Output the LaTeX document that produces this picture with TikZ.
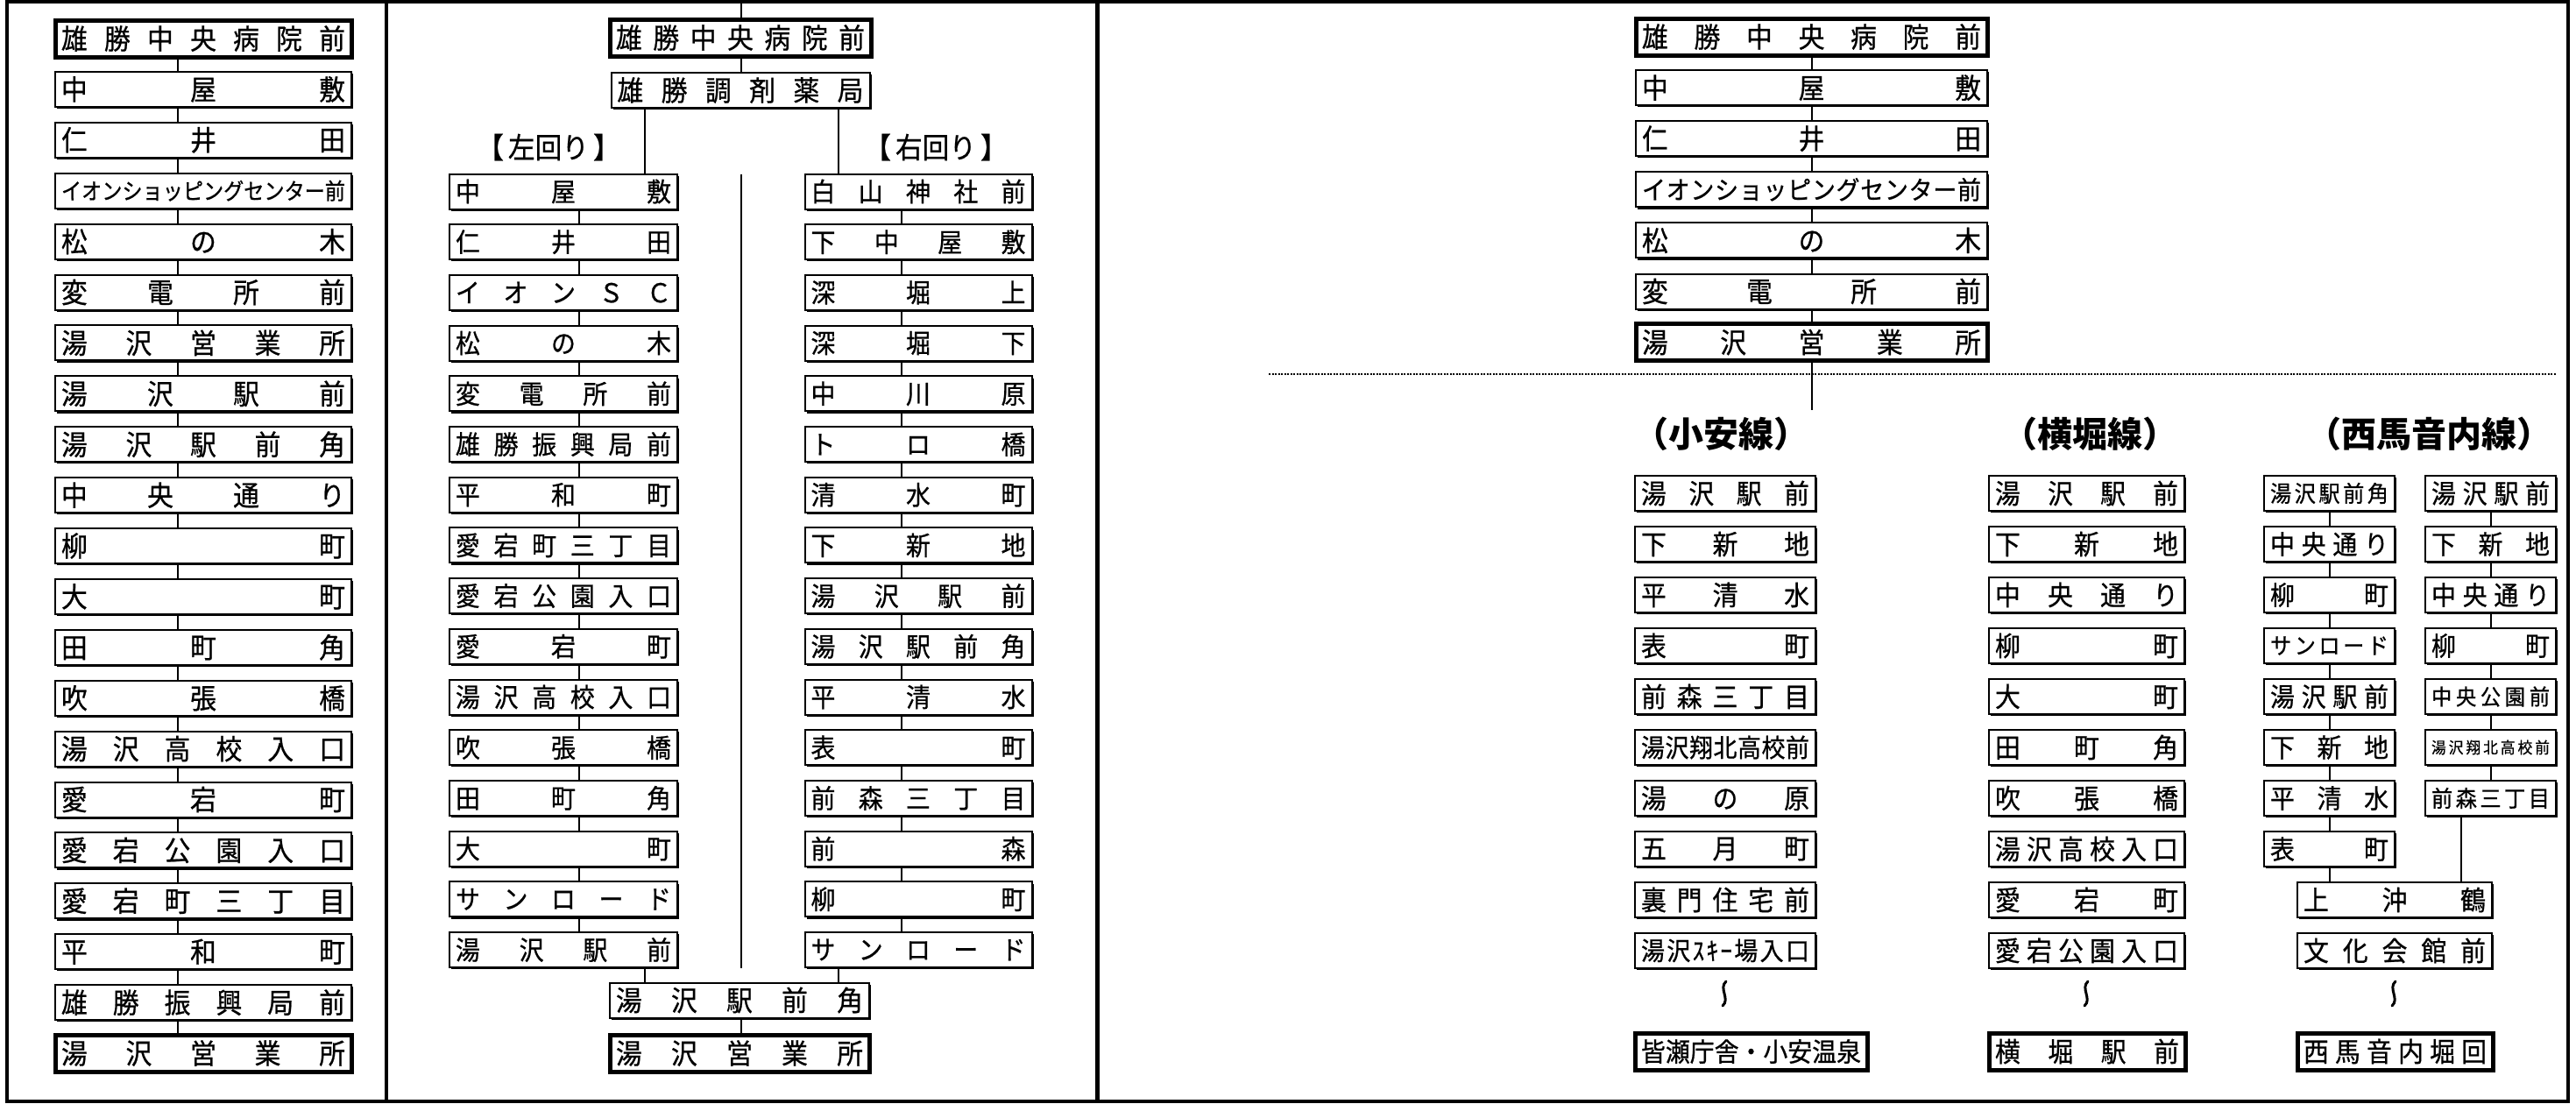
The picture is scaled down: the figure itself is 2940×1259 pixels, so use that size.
\documentclass[tikz,border=0pt]{standalone}
\usepackage{fontspec}
\setmainfont{Noto Sans CJK JP}
\newfontfamily\stnfont{Noto Sans CJK JP}[FakeBold=0.7,FakeStretch=0.93]
\usetikzlibrary{shadows}

\newsavebox\stnbox
\newlength\stnw
\def\spreadaux#1{\ifx#1\relax\else\hfill#1\expandafter\spreadaux\fi}
\def\spreadfirst#1{#1\spreadaux}
\newcommand\spreadtxt[1]{\spreadfirst#1\relax}
\newcommand\fitspread[2]{%
  \edef\stntmp{#2}%
  \sbox\stnbox{\stntmp}%
  \ifdim\wd\stnbox>#1\relax
    \resizebox{#1}{\height}{\usebox\stnbox}%
  \else
    \makebox[#1][s]{\expandafter\spreadtxt\expandafter{\stntmp}}%
  \fi}
% \St[options]{name}{x,y}{width}{font size}{text}
\newcommand\St[6][]{%
  \node[stn,minimum width=#4pt,#1] (#2) at (#3)
    {\setlength\stnw{#4pt}\addtolength\stnw{-14pt}\stnfont\fontsize{#5}{#5}\selectfont\fitspread{\stnw}{#6}};}

\tikzset{
  stn/.style={draw, line width=2pt, fill=white, inner sep=0pt, minimum height=40pt,
    drop shadow={shadow xshift=2.2pt, shadow yshift=-2.2pt, fill=black, opacity=1}},
  heavy/.style={line width=5pt, minimum height=42pt},
  conn/.style={line width=2pt},
  frame/.style={line width=4pt},
  lbl/.style={inner sep=0pt, font=\stnfont\fontsize{33}{33}\selectfont},
  hd/.style={inner sep=0pt, font=\fontsize{40}{40}\selectfont\bfseries},
  wave/.style={line width=3pt, line cap=round}
}

\begin{document}
\begin{tikzpicture}[x=1pt,y=-1pt]
\useasboundingbox (0,0) rectangle (2940,1259);
\fill[white] (0,0) rectangle (2940,1259);

% frame
\draw[frame] (8,2) rectangle (2931,1257);
\draw[frame] (441,2) -- (441,1257);
\draw[line width=5pt] (1252,2) -- (1252,1257);

% ---------------- left panel ----------------
\coordinate (cA) at (203,0);
\St[heavy]{A1}{232,44}{338}{32}{雄勝中央病院前}
\St{A2}{232,101.9}{338}{32}{中屋敷}
\St{A3}{232,159.8}{338}{32}{仁井田}
\St{A4}{232,217.7}{338}{26}{イオンショッピングセンター前}
\St{A5}{232,275.6}{338}{32}{松の木}
\St{A6}{232,333.5}{338}{32}{変電所前}
\St{A7}{232,391.4}{338}{32}{湯沢営業所}
\St{A8}{232,449.3}{338}{32}{湯沢駅前}
\St{A9}{232,507.2}{338}{32}{湯沢駅前角}
\St{A10}{232,565.1}{338}{32}{中央通り}
\St{A11}{232,623}{338}{32}{柳町}
\St{A12}{232,680.9}{338}{32}{大町}
\St{A13}{232,738.8}{338}{32}{田町角}
\St{A14}{232,796.7}{338}{32}{吹張橋}
\St{A15}{232,854.6}{338}{32}{湯沢高校入口}
\St{A16}{232,912.5}{338}{32}{愛宕町}
\St{A17}{232,970.4}{338}{32}{愛宕公園入口}
\St{A18}{232,1028.3}{338}{32}{愛宕町三丁目}
\St{A19}{232,1086.2}{338}{32}{平和町}
\St{A20}{232,1144.1}{338}{32}{雄勝振興局前}
\St[heavy]{A21}{232,1202}{338}{32}{湯沢営業所}
\foreach \j in {2,...,21}{\pgfmathtruncatemacro\i{\j-1}
  \draw[conn] (A\i.south -| cA) -- (A\j.north -| cA);}

% ---------------- middle panel ----------------
\coordinate (cM) at (846,0);
\coordinate (mtop) at (846,2);
\coordinate (bL) at (736,0);
\coordinate (bR) at (957,0);
\coordinate (cML) at (661,0);
\coordinate (cMR) at (1029,0);
\St[heavy]{M0}{845,43}{298}{32}{雄勝中央病院前}
\St{M00}{845,103}{295}{32}{雄勝調剤薬局}
\node[lbl] (lblL) at (626,168) {【\kern5pt左回り\kern5pt】};
\node[lbl] (lblR) at (1068,168) {【\kern5pt右回り\kern5pt】};

\St{ML1}{643,218.5}{260}{30}{中屋敷}
\St{ML2}{643,276.2}{260}{30}{仁井田}
\St{ML3}{643,333.9}{260}{30}{イオンＳＣ}
\St{ML4}{643,391.6}{260}{30}{松の木}
\St{ML5}{643,449.3}{260}{30}{変電所前}
\St{ML6}{643,507}{260}{30}{雄勝振興局前}
\St{ML7}{643,564.7}{260}{30}{平和町}
\St{ML8}{643,622.4}{260}{30}{愛宕町三丁目}
\St{ML9}{643,680.1}{260}{30}{愛宕公園入口}
\St{ML10}{643,737.8}{260}{30}{愛宕町}
\St{ML11}{643,795.5}{260}{30}{湯沢高校入口}
\St{ML12}{643,853.2}{260}{30}{吹張橋}
\St{ML13}{643,910.9}{260}{30}{田町角}
\St{ML14}{643,968.6}{260}{30}{大町}
\St{ML15}{643,1026.3}{260}{30}{サンロード}
\St{ML16}{643,1084}{260}{30}{湯沢駅前}

\St{MR1}{1048,218.5}{259}{30}{白山神社前}
\St{MR2}{1048,276.2}{259}{30}{下中屋敷}
\St{MR3}{1048,333.9}{259}{30}{深堀上}
\St{MR4}{1048,391.6}{259}{30}{深堀下}
\St{MR5}{1048,449.3}{259}{30}{中川原}
\St{MR6}{1048,507}{259}{30}{トロ橋}
\St{MR7}{1048,564.7}{259}{30}{清水町}
\St{MR8}{1048,622.4}{259}{30}{下新地}
\St{MR9}{1048,680.1}{259}{30}{湯沢駅前}
\St{MR10}{1048,737.8}{259}{30}{湯沢駅前角}
\St{MR11}{1048,795.5}{259}{30}{平清水}
\St{MR12}{1048,853.2}{259}{30}{表町}
\St{MR13}{1048,910.9}{259}{30}{前森三丁目}
\St{MR14}{1048,968.6}{259}{30}{前森}
\St{MR15}{1048,1026.3}{259}{30}{柳町}
\St{MR16}{1048,1084}{259}{30}{サンロード}

\St{MB1}{844,1141.5}{296}{32}{湯沢駅前角}
\St[heavy]{MB2}{844,1202}{296}{32}{湯沢営業所}

\draw[conn] (mtop) -- (M0.north -| cM);
\draw[conn] (M0.south -| cM) -- (M00.north -| cM);
\draw[conn] (M00.south -| bL) -- (ML1.north -| bL);
\draw[conn] (M00.south -| bR) -- (MR1.north -| bR);
\foreach \j in {2,...,16}{\pgfmathtruncatemacro\i{\j-1}
  \draw[conn] (ML\i.south -| cML) -- (ML\j.north -| cML);
  \draw[conn] (MR\i.south -| cMR) -- (MR\j.north -| cMR);}
\draw[conn] (ML16.south -| bL) -- (MB1.north -| bL);
\draw[conn] (MR16.south -| bR) -- (MB1.north -| bR);
\draw[conn] (MB1.south -| cM) -- (MB2.north -| cM);
\coordinate (divT) at (846,199);
\coordinate (divB) at (846,1105);
\draw[line width=1.5pt] (divT) -- (divB);

% ---------------- right panel ----------------
\coordinate (cR) at (2068,0);
\St[heavy]{R1}{2067.5,42}{401}{32}{雄勝中央病院前}
\St{R2}{2067.5,100.1}{401}{32}{中屋敷}
\St{R3}{2067.5,158.2}{401}{32}{仁井田}
\St{R4}{2067.5,216.3}{401}{29}{イオンショッピングセンター前}
\St{R5}{2067.5,274.4}{401}{32}{松の木}
\St{R6}{2067.5,332.5}{401}{32}{変電所前}
\St[heavy]{R7}{2067.5,390.6}{401}{32}{湯沢営業所}
\foreach \j in {2,...,7}{\pgfmathtruncatemacro\i{\j-1}
  \draw[conn] (R\i.south -| cR) -- (R\j.north -| cR);}
\coordinate (dotL) at (1448,427);
\coordinate (dotR) at (2918,427);
\draw[line width=2.5pt, dash pattern=on 2pt off 1.5pt] (dotL) -- (dotR);
\coordinate (Rend) at (2068,468);
\draw[conn] (R7.south -| cR) -- (Rend);

\node[hd] (hK) at (1964,495) {（小安線）};
\node[hd] (hY) at (2385,495) {（横堀線）};
\node[hd] (hN) at (2772,495) {（西馬音内線）};

% 小安線
\St{K1}{1969,563}{206}{31}{湯沢駅前}
\St{K2}{1969,621}{206}{31}{下新地}
\St{K3}{1969,679}{206}{31}{平清水}
\St{K4}{1969,737}{206}{31}{表町}
\St{K5}{1969,795}{206}{31}{前森三丁目}
\St{K6}{1969,853}{206}{29}{湯沢翔北高校前}
\St{K7}{1969,911}{206}{31}{湯の原}
\St{K8}{1969,969}{206}{31}{五月町}
\St{K9}{1969,1027}{206}{31}{裏門住宅前}
\St{K10}{1969,1085}{206}{29}{湯沢ｽｷｰ場入口}
\St[heavy]{K11}{1998.5,1200}{265}{30}{皆瀬庁舎・小安温泉}

% 横堀線
\St{Y1}{2381.5,563}{223}{31}{湯沢駅前}
\St{Y2}{2381.5,621}{223}{31}{下新地}
\St{Y3}{2381.5,679}{223}{31}{中央通り}
\St{Y4}{2381.5,737}{223}{31}{柳町}
\St{Y5}{2381.5,795}{223}{31}{大町}
\St{Y6}{2381.5,853}{223}{31}{田町角}
\St{Y7}{2381.5,911}{223}{31}{吹張橋}
\St{Y8}{2381.5,969}{223}{31}{湯沢高校入口}
\St{Y9}{2381.5,1027}{223}{31}{愛宕町}
\St{Y10}{2381.5,1085}{223}{31}{愛宕公園入口}
\St[heavy]{Y11}{2382,1200}{224}{31}{横堀駅前}

% 西馬音内線
\coordinate (cNA) at (2659,0);
\coordinate (cNB) at (2843,0);
\coordinate (cNB2) at (2809,0);
\St{NA1}{2658.5,563}{149}{26}{湯沢駅前角}
\St{NA2}{2658.5,621}{149}{30}{中央通り}
\St{NA3}{2658.5,679}{149}{30}{柳町}
\St{NA4}{2658.5,737}{149}{26}{サンロード}
\St{NA5}{2658.5,795}{149}{30}{湯沢駅前}
\St{NA6}{2658.5,853}{149}{30}{下新地}
\St{NA7}{2658.5,911}{149}{30}{平清水}
\St{NA8}{2658.5,969}{149}{30}{表町}
\St{NB1}{2842.5,563}{149}{30}{湯沢駅前}
\St{NB2}{2842.5,621}{149}{30}{下新地}
\St{NB3}{2842.5,679}{149}{30}{中央通り}
\St{NB4}{2842.5,737}{149}{30}{柳町}
\St{NB5}{2842.5,795}{149}{25}{中央公園前}
\St{NB6}{2842.5,853}{149}{18}{湯沢翔北高校前}
\St{NB7}{2842.5,911}{149}{26}{前森三丁目}
\St{N9}{2733,1027}{222}{31}{上沖鶴}
\St{N10}{2733,1085}{222}{31}{文化会館前}
\St[heavy]{N11}{2733.5,1200}{223}{31}{西馬音内堀回}
\foreach \j in {2,...,8}{\pgfmathtruncatemacro\i{\j-1}
  \draw[conn] (NA\i.south -| cNA) -- (NA\j.north -| cNA);}
\foreach \j in {2,...,7}{\pgfmathtruncatemacro\i{\j-1}
  \draw[conn] (NB\i.south -| cNB) -- (NB\j.north -| cNB);}
\draw[conn] (NA8.south -| cNA) -- (N9.north -| cNA);
\draw[conn] (NB7.south -| cNB2) -- (N9.north -| cNB2);

% waves
\foreach \x in {1968,2381,2732}{
  \draw[wave] (\x+2,1120) .. controls (\x-7,1128) and (\x+7,1140) .. (\x-2,1148);}
\end{tikzpicture}
\end{document}
